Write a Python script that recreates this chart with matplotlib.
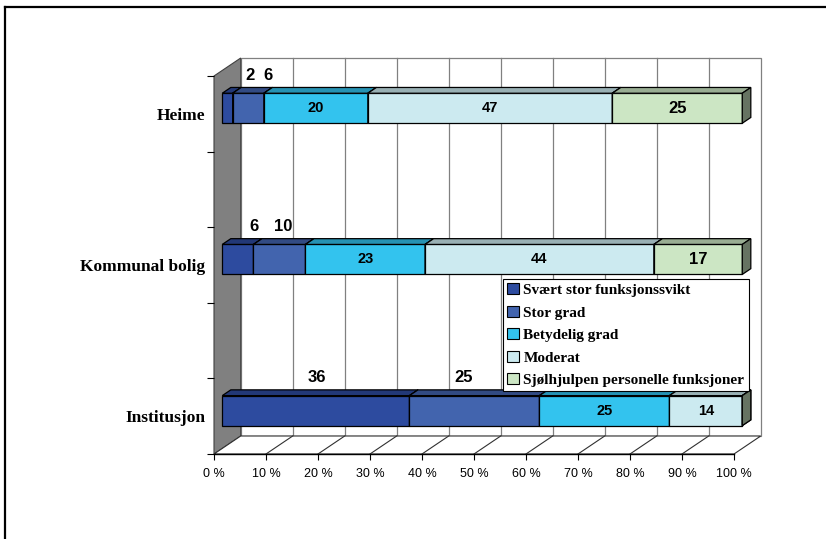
import matplotlib
matplotlib.use("Agg")
import matplotlib.pyplot as plt
from matplotlib.patches import Polygon, Patch
from matplotlib.lines import Line2D
import numpy as np

# ---- data (percent of each group) ----
categories = ["Institusjon", "Kommunal bolig", "Heime"]
series_names = ["Svært stor funksjonssvikt", "Stor grad", "Betydelig grad",
                "Moderat", "Sjølhjulpen personelle funksjoner"]
svaert_stor = [36, 6, 2]
stor_grad = [25, 10, 6]
betydelig_grad = [25, 23, 20]
moderat = [14, 44, 47]
sjolhjulpen = [0, 17, 25]
x_ticks = [0, 10, 20, 30, 40, 50, 60, 70, 80, 90, 100]
x_tick_labels = [f"{t} %" for t in x_ticks]

values = np.array([svaert_stor, stor_grad, betydelig_grad, moderat, sjolhjulpen], dtype=float)

# ---- styling ----
face_colors = ["#2D4B9F", "#4264AE", "#33C3EE", "#CCEAF0", "#CCE6C4"]
label_sizes = [12, 12, 10.5, 10.5, 12]
label_outside = [True, True, False, False, False]
# horizontal nudges (pixels) for the labels placed above the bar, per category
outside_nudge = {0: [1.4, -10.4], 1: [16.4, 4.0], 2: [22.8, 20.0]}

W, H = 826, 539
fig = plt.figure(figsize=(W / 100, H / 100), dpi=100)
# axes spans the front plane of the floor
ax_l, ax_r, ax_t, ax_b = 214, 734, 76, 454
ax = fig.add_axes([ax_l / W, (H - ax_b) / H, (ax_r - ax_l) / W, (ax_b - ax_t) / H])
ax.set_xlim(0, 100)
ax.set_ylim(0, 5)
ax.patch.set_visible(False)
for s in ax.spines.values():
    s.set_visible(False)

px_x = 100 / (ax_r - ax_l)
px_y = 5 / (ax_b - ax_t)
depth = np.array([26.7 * px_x, 18.0 * px_y])   # full depth of the box
z_front, z_back = 0.31, 0.63                      # bar slab inside the box
cat_pos = [0.5, 2.5, 4.5]
half_h = 15 * px_y


def shade(c, f):
    rgb = np.array(matplotlib.colors.to_rgb(c))
    return tuple(rgb * f)


def poly(pts, fc, ec, lw=0.8, z=1):
    p = Polygon(pts, closed=True, facecolor=fc, edgecolor=ec, linewidth=lw,
                clip_on=False, zorder=z, joinstyle="miter")
    ax.add_patch(p)


dx, dy = depth
# back wall
poly([(dx, dy), (100 + dx, dy), (100 + dx, 5 + dy), (dx, 5 + dy)], "white", "#808080", 0.9, 1)
for t in x_ticks[1:-1]:
    ax.plot([t + dx, t + dx], [dy, 5 + dy], color="#808080", lw=0.9, zorder=1.1, clip_on=False)
# left side wall
poly([(0, 0), (0, 5), (dx, 5 + dy), (dx, dy)], "#808080", "#404040", 0.8, 1.2)
# floor
poly([(0, 0), (100, 0), (100 + dx, dy), (dx, dy)], "white", "#303030", 0.8, 1.2)
for t in x_ticks[1:-1]:
    ax.plot([t, t + dx], [0, dy], color="#303030", lw=0.8, zorder=1.3, clip_on=False)
ax.plot([0, 100], [0, 0], color="black", lw=1.0, zorder=1.4, clip_on=False)

# stacked 3-D bars
fx, fy = depth * z_front
bx, by = depth * z_back
for ci, c in enumerate(cat_pos):
    left = 0.0
    y0, y1 = c - half_h, c + half_h
    for si in range(len(series_names)):
        v = values[si, ci]
        right = left + v
        col = face_colors[si]
        # front face
        poly([(left + fx, y0 + fy), (right + fx, y0 + fy), (right + fx, y1 + fy), (left + fx, y1 + fy)],
             col, "black", 0.9, 2)
        # top face
        poly([(left + fx, y1 + fy), (right + fx, y1 + fy), (right + bx, y1 + by), (left + bx, y1 + by)],
             shade(col, 0.75), "black", 0.9, 2)
        # right side face
        poly([(right + fx, y0 + fy), (right + bx, y0 + by), (right + bx, y1 + by), (right + fx, y1 + fy)],
             shade(col, 0.5), "black", 0.9, 2)
        if v > 0:
            cx = (left + right) / 2 + fx
            if label_outside[si]:
                nud = outside_nudge[ci][si]
                ax.annotate(f"{v:g}", xy=(cx, y1 + by), xytext=(nud * 0.72, 12 * 0.72),
                            textcoords="offset points", ha="center", va="center",
                            fontsize=label_sizes[si], fontweight="bold",
                            family="Liberation Sans", zorder=5, annotation_clip=False)
            else:
                ax.text(cx, c + fy, f"{v:g}", ha="center", va="center",
                        fontsize=label_sizes[si], fontweight="bold",
                        family="Liberation Sans", zorder=5)
        left = right

# axes ticks
ax.set_xticks(x_ticks)
ax.set_xticklabels(x_tick_labels, family="Liberation Sans", fontsize=9)
ax.tick_params(axis="x", direction="out", length=4, width=0.8, pad=6, color="black")
ax.set_yticks(range(6))
ax.set_yticklabels([])
ax.tick_params(axis="y", which="major", direction="out", length=5, width=0.8, color="black")
ax.set_yticks(cat_pos, minor=True)
ax.set_yticklabels(categories, minor=True, family="Liberation Serif",
                   fontweight="bold", fontsize=12.5)
ax.tick_params(axis="y", which="minor", length=0, pad=6.5)

# legend
handles = [Patch(facecolor=c, edgecolor="black", linewidth=0.8) for c in face_colors]
leg = fig.legend(handles, series_names, loc="upper left",
                 bbox_to_anchor=(503 / W, 1 - 279 / H), bbox_transform=fig.transFigure,
                 prop={"family": "Liberation Serif", "weight": "bold", "size": 11},
                 frameon=True, fancybox=False, edgecolor="black", framealpha=1,
                 handlelength=0.75, handleheight=0.75, handletextpad=0.3,
                 labelspacing=0.56, borderpad=0.28, borderaxespad=0)
leg.get_frame().set_linewidth(0.8)
leg.set_zorder(10)

# outer frame (top and left edges)
fig.add_artist(Line2D([4.5 / W, 1], [1 - 6.5 / H, 1 - 6.5 / H], transform=fig.transFigure,
                      color="black", lw=1.6))
fig.add_artist(Line2D([4.5 / W, 4.5 / W], [0, 1 - 6.5 / H], transform=fig.transFigure,
                      color="black", lw=1.6))

fig.savefig("out.png", dpi=100, facecolor="white")
